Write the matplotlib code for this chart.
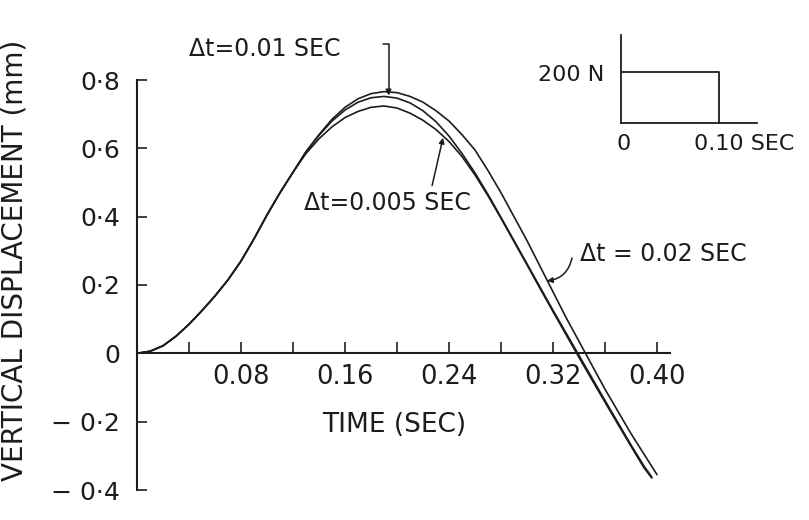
import matplotlib
matplotlib.use("Agg")
import matplotlib.pyplot as plt

# ---------------- data ----------------
t_common = [0.00, 0.01, 0.02, 0.03, 0.04, 0.05, 0.06, 0.07, 0.08, 0.09, 0.10, 0.11, 0.12]
y_common = [0.0, 0.006, 0.022, 0.05, 0.085, 0.125, 0.168, 0.215, 0.27, 0.335, 0.405, 0.47, 0.53]

t_dt002 = [0.13, 0.14, 0.15, 0.16, 0.17, 0.18, 0.19, 0.20, 0.21, 0.22, 0.23, 0.24, 0.25, 0.26,
           0.27, 0.28, 0.29, 0.30, 0.31, 0.32, 0.33, 0.34, 0.35, 0.36, 0.37, 0.38, 0.39, 0.40]
y_dt002 = [0.59, 0.64, 0.685, 0.72, 0.745, 0.76, 0.766, 0.763, 0.752, 0.735, 0.71, 0.68, 0.64, 0.595,
           0.535, 0.47, 0.40, 0.33, 0.255, 0.18, 0.105, 0.035, -0.035, -0.105, -0.17, -0.235, -0.295, -0.355]

t_dt001 = [0.13, 0.14, 0.15, 0.16, 0.17, 0.18, 0.19, 0.20, 0.21, 0.22, 0.23, 0.24, 0.25, 0.26,
           0.27, 0.28, 0.29, 0.30, 0.31, 0.32, 0.33, 0.34, 0.35, 0.36, 0.37, 0.38, 0.39, 0.396]
y_dt001 = [0.59, 0.638, 0.68, 0.712, 0.735, 0.748, 0.752, 0.747, 0.733, 0.71, 0.678, 0.636, 0.585, 0.528,
           0.465, 0.398, 0.33, 0.262, 0.194, 0.126, 0.06, -0.006, -0.072, -0.138, -0.203, -0.268, -0.33, -0.362]

t_dt0005 = [0.13, 0.14, 0.15, 0.16, 0.17, 0.18, 0.19, 0.20, 0.21, 0.22, 0.23, 0.24, 0.25, 0.26,
            0.27, 0.28, 0.29, 0.30, 0.31, 0.32, 0.33, 0.34, 0.35, 0.36, 0.37, 0.38, 0.39, 0.396]
y_dt0005 = [0.585, 0.628, 0.663, 0.69, 0.708, 0.72, 0.724, 0.718, 0.703, 0.682, 0.655, 0.62, 0.576, 0.522,
            0.461, 0.395, 0.327, 0.259, 0.19, 0.122, 0.055, -0.012, -0.078, -0.143, -0.208, -0.272, -0.335, -0.365]

x_major = [0.08, 0.16, 0.24, 0.32, 0.40]
x_major_labels = ["0.08", "0.16", "0.24", "0.32", "0.40"]
x_minor = [0.04, 0.12, 0.20, 0.28, 0.36]
y_ticks = [0.8, 0.6, 0.4, 0.2, 0.0, -0.2, -0.4]
y_tick_labels = ["0·8", "0·6", "0·4", "0·2", "0", "− 0·2", "− 0·4"]

pulse_t = [0.0, 0.10, 0.10]
pulse_f = [200, 200, 0]

# ---------------- figure ----------------
ink = "#1c1c1c"
plt.rcParams['font.family'] = ['DejaVu Sans']
fig = plt.figure(figsize=(8.09, 5.20), dpi=100)
ax = fig.add_axes([137/809, 1-490/520, (670-137)/809, (490-80)/520])

lw = 1.2
for tt, yy in [(t_dt002, y_dt002), (t_dt001, y_dt001), (t_dt0005, y_dt0005)]:
    ax.plot(t_common + tt, y_common + yy, color=ink, lw=lw, solid_capstyle='round',
            solid_joinstyle='round')

ax.set_xlim(0, 0.41)
ax.set_ylim(-0.4, 0.8)
for s in ['top', 'right']:
    ax.spines[s].set_visible(False)
ax.spines['bottom'].set_position(('data', 0))
ax.spines['bottom'].set_linewidth(1.5)
ax.spines['left'].set_linewidth(1.5)
ax.spines['bottom'].set_color(ink)
ax.spines['left'].set_color(ink)

ax.set_xticks(x_major)
ax.set_xticklabels(x_major_labels)
ax.set_xticks(x_minor, minor=True)
ax.tick_params(axis='x', which='both', direction='in', length=8, width=1.2, color=ink,
               labelsize=18.5, pad=8, labelcolor=ink)
ax.set_yticks(y_ticks)
ax.set_yticklabels(y_tick_labels)
ax.tick_params(axis='y', direction='in', length=7, width=1.2, color=ink,
               labelsize=18, pad=12, labelcolor=ink)

ax.text(0.198, -0.21, "TIME (SEC)", fontsize=19, ha='center', va='center', color=ink)
fig.text(15/809, 0.5, "VERTICAL DISPLACEMENT (mm)", rotation=90, fontsize=20,
         ha='center', va='center', color=ink)

# annotations
ax.annotate("Δt=0.01 SEC", xy=(0.1935, 0.753), xytext=(0.0985, 0.89),
            fontsize=17, ha='center', va='center', color=ink, annotation_clip=False)
ax.annotate("", xy=(0.1935, 0.755), xytext=(0.189, 0.904),
            arrowprops=dict(arrowstyle='-|>', color=ink, lw=1.1, mutation_scale=8,
                            shrinkA=0, shrinkB=0,
                            connectionstyle="angle,angleA=0,angleB=90,rad=0"),
            annotation_clip=False)

ax.text(0.1923, 0.439, "Δt=0.005 SEC", fontsize=17, ha='center', va='center', color=ink)
ax.annotate("", xy=(0.2354, 0.631), xytext=(0.227, 0.491),
            arrowprops=dict(arrowstyle='-|>', color=ink, lw=1.1, mutation_scale=8,
                            shrinkA=0, shrinkB=0))

ax.text(0.341, 0.29, "Δt = 0.02 SEC", fontsize=17, ha='left', va='center', color=ink)
ax.annotate("", xy=(0.3154, 0.212), xytext=(0.3346, 0.279),
            arrowprops=dict(arrowstyle='-|>', color=ink, lw=1.1, mutation_scale=8,
                            shrinkA=0, shrinkB=0, connectionstyle="arc3,rad=-0.35"))

# inset: load pulse
axi = fig.add_axes([621/809, 1-123/520, (757-621)/809, (123-35)/520])
axi.plot(pulse_t, pulse_f, color=ink, lw=1.3)
axi.set_xlim(0, 0.139)
axi.set_ylim(0, 346)
for s in ['top', 'right']:
    axi.spines[s].set_visible(False)
for s in ['left', 'bottom']:
    axi.spines[s].set_linewidth(1.3)
    axi.spines[s].set_color(ink)
axi.set_xticks([])
axi.set_yticks([])
axi.patch.set_alpha(0)
axi.annotate("200 N", xy=(0, 200), xytext=(-12, -2), textcoords='offset points',
             fontsize=16, ha='right', va='center', color=ink)
axi.annotate("0", xy=(0, 0), xytext=(2, -15), textcoords='offset points',
             fontsize=16, ha='center', va='center', color=ink)
axi.annotate("0.10 SEC", xy=(0.10, 0), xytext=(-18, -15), textcoords='offset points',
             fontsize=16, ha='left', va='center', color=ink)

fig.savefig("out.png", dpi=100, facecolor='white')
